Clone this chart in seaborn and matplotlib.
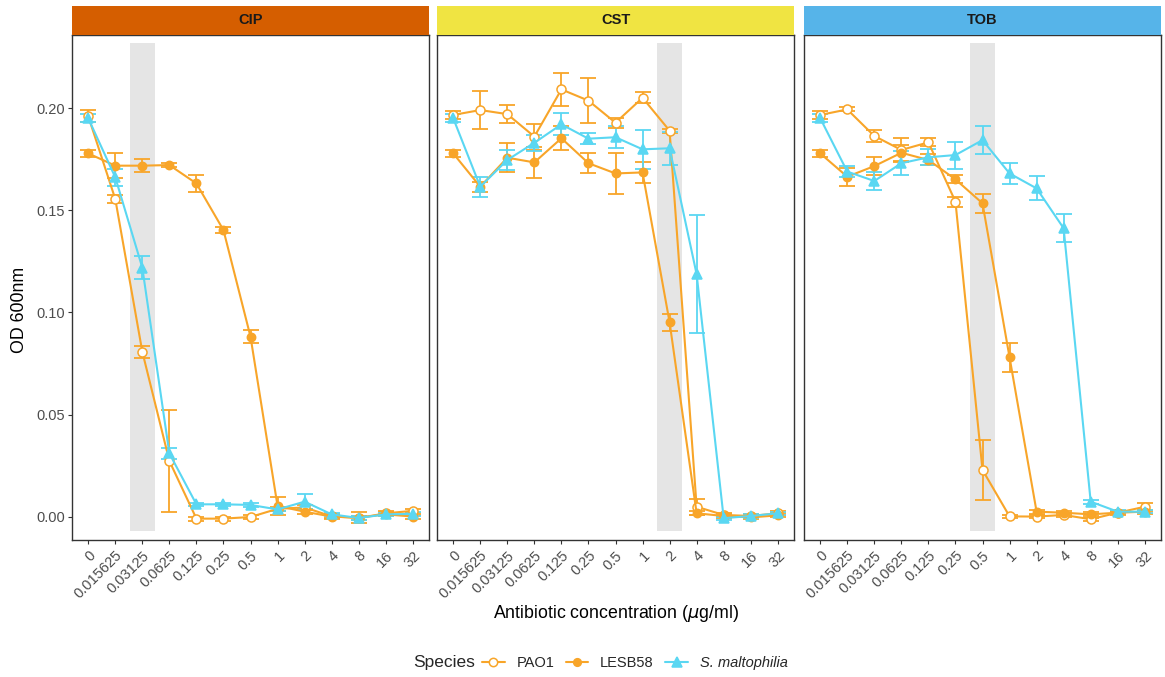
import numpy as np
import pandas as pd
import matplotlib
matplotlib.use("Agg")
import matplotlib.pyplot as plt
from matplotlib.patches import Rectangle
from matplotlib.lines import Line2D
import seaborn as sns

# ---- data: mean OD600 and SD per concentration ----
concentrations = ["0", "0.015625", "0.03125", "0.0625", "0.125", "0.25", "0.5",
                  "1", "2", "4", "8", "16", "32"]
antibiotics = ["CIP", "CST", "TOB"]
species = ["PAO1", "LESB58", "S. maltophilia"]
mic_labels = ["0.03125", "2", "0.5"]  # shaded concentration per antibiotic

cip_pao1 = [0.196, 0.1555, 0.0808, 0.0274, -0.0008, -0.0008, 0.0000, 0.0040, 0.0047, 0.0003, -0.0005, 0.0018, 0.0030]
cip_pao1_sd = [0.003, 0.002, 0.003, 0.025, 0.001, 0.001, 0.001, 0.001, 0.001, 0.001, 0.001, 0.001, 0.001]
cip_lesb58 = [0.1778, 0.1718, 0.1718, 0.1721, 0.1631, 0.1403, 0.0882, 0.0054, 0.0026, 0.0002, -0.0003, 0.0013, 0.0002]
cip_lesb58_sd = [0.0016, 0.006, 0.0033, 0.0008, 0.0042, 0.0016, 0.0033, 0.0045, 0.001, 0.001, 0.0025, 0.001, 0.001]
cip_malto = [0.195, 0.1661, 0.1219, 0.0311, 0.0062, 0.0062, 0.0059, 0.0037, 0.0075, 0.0013, -0.0005, 0.0013, 0.0015]
cip_malto_sd = [0.002, 0.004, 0.0057, 0.0026, 0.0008, 0.0008, 0.0008, 0.0008, 0.0037, 0.0008, 0.0008, 0.0008, 0.0008]

cst_pao1 = [0.1966, 0.199, 0.197, 0.186, 0.2091, 0.2036, 0.1928, 0.2050, 0.1889, 0.0050, 0.0010, 0.0005, 0.0018]
cst_pao1_sd = [0.002, 0.0093, 0.0043, 0.0064, 0.008, 0.011, 0.0024, 0.0027, 0.001, 0.004, 0.001, 0.001, 0.001]
cst_lesb58 = [0.1778, 0.1615, 0.1757, 0.1734, 0.1852, 0.1730, 0.1680, 0.1685, 0.0952, 0.0018, 0.0005, -0.0002, 0.0008]
cst_lesb58_sd = [0.0016, 0.0024, 0.0072, 0.0077, 0.0059, 0.005, 0.0102, 0.005, 0.0042, 0.001, 0.001, 0.001, 0.001]
cst_malto = [0.195, 0.1615, 0.1746, 0.183, 0.192, 0.185, 0.1857, 0.1798, 0.1803, 0.1187, -0.0006, 0.0005, 0.0018]
cst_malto_sd = [0.002, 0.0049, 0.005, 0.0038, 0.0054, 0.0027, 0.0055, 0.0096, 0.008, 0.0289, 0.0008, 0.0008, 0.0008]

tob_pao1 = [0.1966, 0.1993, 0.1863, 0.1795, 0.1832, 0.1542, 0.0230, 0.0003, 0.0002, 0.0010, -0.0011, 0.0021, 0.0050]
tob_pao1_sd = [0.002, 0.001, 0.003, 0.006, 0.002, 0.0024, 0.0147, 0.0008, 0.0008, 0.0008, 0.0008, 0.0008, 0.002]
tob_lesb58 = [0.1778, 0.1664, 0.1716, 0.1781, 0.1746, 0.1651, 0.1534, 0.0781, 0.0026, 0.0021, 0.0013, 0.0021, 0.0026]
tob_lesb58_sd = [0.0016, 0.0045, 0.0046, 0.004, 0.0027, 0.002, 0.0045, 0.0071, 0.001, 0.001, 0.001, 0.001, 0.001]
tob_malto = [0.195, 0.1689, 0.1643, 0.173, 0.1759, 0.177, 0.1843, 0.168, 0.1607, 0.1412, 0.0075, 0.0026, 0.0026]
tob_malto_sd = [0.002, 0.0026, 0.0046, 0.006, 0.004, 0.0066, 0.0069, 0.005, 0.0059, 0.0068, 0.001, 0.0008, 0.0008]

series = {
    "CIP": [(cip_pao1, cip_pao1_sd), (cip_lesb58, cip_lesb58_sd), (cip_malto, cip_malto_sd)],
    "CST": [(cst_pao1, cst_pao1_sd), (cst_lesb58, cst_lesb58_sd), (cst_malto, cst_malto_sd)],
    "TOB": [(tob_pao1, tob_pao1_sd), (tob_lesb58, tob_lesb58_sd), (tob_malto, tob_malto_sd)],
}

rows = []
for ab in antibiotics:
    for sp, (mean, sd) in zip(species, series[ab]):
        for i, (c, m, s) in enumerate(zip(concentrations, mean, sd)):
            rows.append(dict(antibiotic=ab, species=sp, conc=c, idx=i, od=m, sd=s))
df = pd.DataFrame(rows)

# ---- styling ----
sns.set_theme(style="white")
plt.rcParams["font.family"] = ["Liberation Sans", "DejaVu Sans"]

orange = "#F8A529"
cyan = "#5AD7F2"
sp_style = {
    "PAO1": dict(color=orange, marker="o", mfc="white", ms=6.5),
    "LESB58": dict(color=orange, marker="o", mfc=orange, ms=6.0),
    "S. maltophilia": dict(color=cyan, marker="^", mfc=cyan, ms=7.0),
}
strip_colors = {"CIP": "#D55E00", "CST": "#F0E442", "TOB": "#56B4E9"}
axis_grey = "#333333"
tick_grey = "#4D4D4D"

W, H = 1165, 677
fig = plt.figure(figsize=(W / 100, H / 100), dpi=100)
lefts = [72, 437, 804]
width_px = 357
top_px, bottom_px = 35, 540
strip_h = 29

ylo, yhi = -0.01125, 0.2357

for k, ab in enumerate(antibiotics):
    ax = fig.add_axes([lefts[k] / W, 1 - bottom_px / H, width_px / W, (bottom_px - top_px) / H])
    sub_ab = df[df.antibiotic == ab]

    mic = concentrations.index(mic_labels[k])
    ax.add_patch(Rectangle((mic - 0.46, -0.0068), 0.92, 0.2386, facecolor="#E5E5E5",
                           edgecolor="none", zorder=0))

    for sp in species:
        sub = sub_ab[sub_ab.species == sp]
        st = sp_style[sp]
        ax.errorbar(sub.idx, sub.od, yerr=sub.sd, fmt="none", ecolor=st["color"],
                    elinewidth=1.3, capsize=5.5, capthick=1.3, zorder=2)
        sns.lineplot(data=sub, x="idx", y="od", ax=ax, color=st["color"], lw=1.5,
                     marker=st["marker"], markersize=st["ms"], markerfacecolor=st["mfc"],
                     markeredgecolor=st["color"], markeredgewidth=1.1,
                     estimator=None, errorbar=None, legend=False, zorder=3)

    ax.set_xlim(-0.6, len(concentrations) - 0.4)
    ax.set_ylim(ylo, yhi)
    ax.set_xticks(range(len(concentrations)))
    ax.set_xticklabels(concentrations, rotation=45, ha="right", rotation_mode="anchor",
                       fontsize=10.5, color=tick_grey)
    ax.set_yticks([0, 0.05, 0.10, 0.15, 0.20])
    if k == 0:
        ax.set_yticklabels(["0.00", "0.05", "0.10", "0.15", "0.20"], fontsize=10.5, color=tick_grey)
        ax.tick_params(axis="y", length=3, width=0.8, color=axis_grey, pad=2, left=True)
    else:
        ax.tick_params(axis="y", left=False, labelleft=False)
    ax.tick_params(axis="x", length=3, width=0.8, color=axis_grey, pad=3, bottom=True)
    ax.set_xlabel("")
    ax.set_ylabel("")
    for s in ax.spines.values():
        s.set_color(axis_grey)
        s.set_linewidth(1.0)
    ax.set_facecolor("white")

    # facet strip
    sh = strip_h / (bottom_px - top_px)
    ax.add_patch(Rectangle((0, 1.0), 1, sh, transform=ax.transAxes, facecolor=strip_colors[ab],
                           edgecolor="none", clip_on=False, zorder=5))
    ax.text(0.5, 1 + sh / 2, ab, transform=ax.transAxes, ha="center", va="center",
            fontsize=10.5, fontweight="bold", color="#1A1A1A", zorder=6)

fig.text(616 / W, 1 - 613 / H, "Antibiotic concentration ($\\mu$g/ml)",
         ha="center", va="center", fontsize=12.8, color="black")
fig.text(20 / W, 1 - 310 / H, "OD 600nm", rotation=90, ha="center", va="center",
         fontsize=12.8, color="black")

# legend along the bottom
fig.text(413 / W, 1 - 663 / H, "Species", ha="left", va="center", fontsize=12.5)
handles = [Line2D([0], [0], color=sp_style[sp]["color"], lw=1.5, marker=sp_style[sp]["marker"],
                  markersize=sp_style[sp]["ms"] - 0.5, markerfacecolor=sp_style[sp]["mfc"],
                  markeredgecolor=sp_style[sp]["color"], markeredgewidth=1.1) for sp in species]
leg = fig.legend(handles, species, loc="center left", bbox_to_anchor=(482 / W, 1 - 663 / H),
                 ncol=3, frameon=False, fontsize=10.5, handlelength=1.55, handletextpad=0.8,
                 columnspacing=0.8, borderaxespad=0, borderpad=0)
leg.get_texts()[2].set_style("italic")

fig.savefig("out.png", dpi=100, facecolor="white")
